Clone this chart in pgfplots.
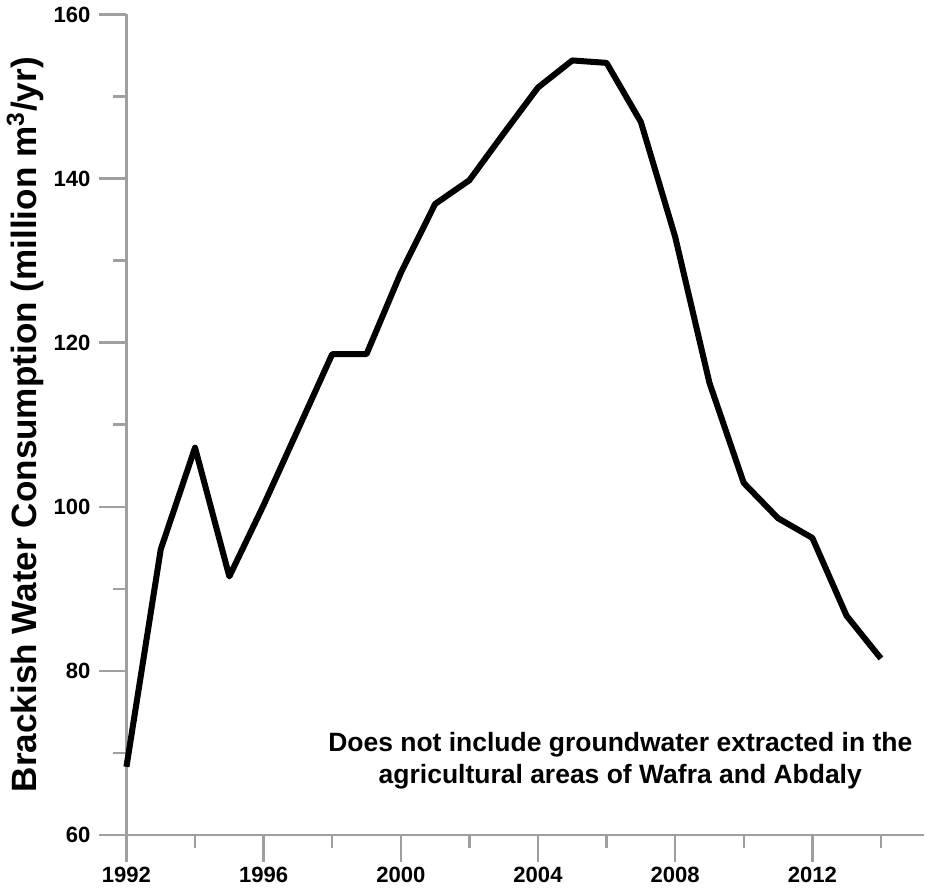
\documentclass[border=0pt]{standalone}
\usepackage{fontspec}
\setmainfont{Liberation Sans}
\usepackage{pgfplots}
\pgfplotsset{compat=1.18}

\begin{document}
\begin{tikzpicture}
\begin{axis}[
  scale only axis,
  width=397.5pt, height=409pt,
  xmin=1992, xmax=2015.25,
  ymin=60, ymax=160,
  enlargelimits=false,
  axis lines=left,
  axis line style={-, draw=gray!75, line width=1.2pt},
  xtick={1992,1996,...,2012},
  minor xtick={1994,1998,...,2014},
  ytick={60,80,...,160},
  minor ytick={70,90,...,150},
  tick align=outside,
  major tick length=13.5pt,
  minor tick length=6.5pt,
  tick style={draw=gray!75, line width=1.2pt},
  /pgf/number format/assume math mode=true,
  /pgf/number format/1000 sep={},
  ticklabel style={font=\bfseries\fontsize{11}{13}\selectfont},
  xticklabel style={yshift=1pt},
  yticklabel style={xshift=-1pt},
  ylabel={Brackish Water Consumption (million m\textsuperscript{3}/yr)},
  ylabel style={font=\bfseries\fontsize{17.5}{20}\selectfont, yshift=-2pt},
  clip=false,
]
\addplot[black, line width=3pt, line join=round] coordinates {
  (1992,68.3) (1993,94.8) (1994,107.2) (1995,91.5) (1996,100.2)
  (1997,109.4) (1998,118.6) (1999,118.6) (2000,128.5) (2001,136.9)
  (2002,139.8) (2003,145.5) (2004,151.1) (2005,154.4) (2006,154.1)
  (2007,146.9) (2008,132.9) (2009,115.1) (2010,102.9) (2011,98.6)
  (2012,96.2) (2013,86.7) (2014,81.5)
};
\node[align=center, font=\bfseries\fontsize{13.2}{16}\selectfont]
  at (axis cs:2006.4,69.05)
  {Does not include groundwater extracted in the\\agricultural areas of Wafra and Abdaly};
\end{axis}
\end{tikzpicture}
\end{document}
